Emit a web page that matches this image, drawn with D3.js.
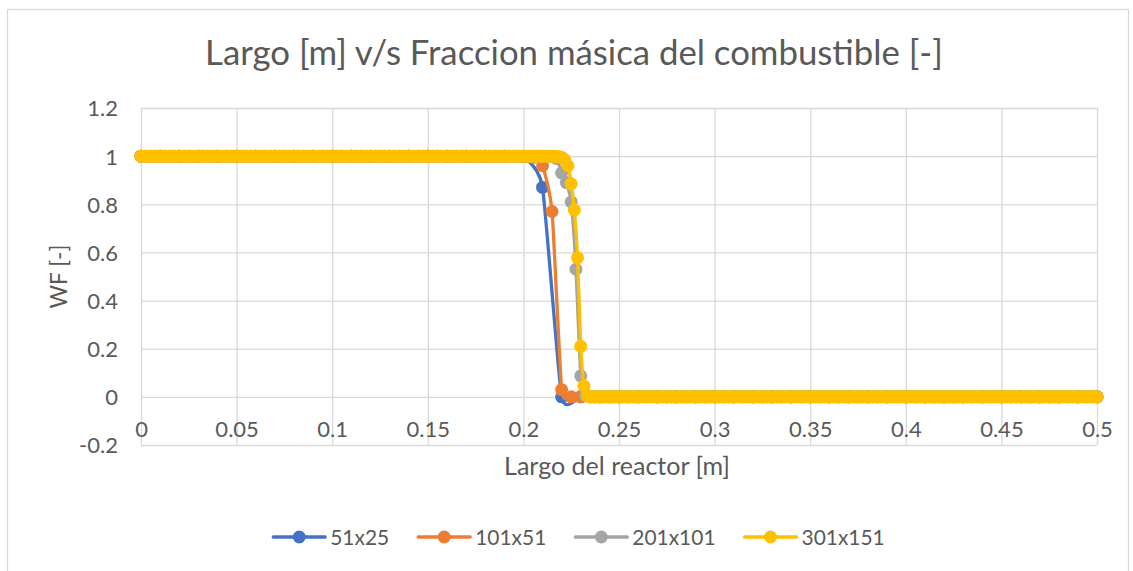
<!DOCTYPE html>
<html><head><meta charset="utf-8">
<script src="https://cdn.jsdelivr.net/npm/d3@7"></script>
<style>
body{margin:0;background:#fff}
svg{display:block}
text{font-family:Lato,"Open Sans",sans-serif;fill:#595959}
</style></head>
<body><svg id="chart" width="1133" height="571"></svg>
<script>
const chartTitle = "Largo [m] v/s Fraccion másica del combustible [-]";
const xAxisTitle = "Largo del reactor [m]";
const yAxisTitle = "WF [-]";
const xTickValues = [0,0.05,0.1,0.15,0.2,0.25,0.3,0.35,0.4,0.45,0.5];
const xTickLabels = ["0","0.05","0.1","0.15","0.2","0.25","0.3","0.35","0.4","0.45","0.5"];
const yTickValues = [-0.2,0,0.2,0.4,0.6,0.8,1,1.2];
const yTickLabels = ["-0.2","0","0.2","0.4","0.6","0.8","1","1.2"];
const seriesNames = ["51x25","101x51","201x101","301x151"];

const x51 = [0,0.01,0.02,0.03,0.04,0.05,0.06,0.07,0.08,0.09,
0.1,0.11,0.12,0.13,0.14,0.15,0.16,0.17,0.18,0.19,
0.2,0.21,0.22,0.23,0.24,0.25,0.26,0.27,0.28,0.29,
0.3,0.31,0.32,0.33,0.34,0.35,0.36,0.37,0.38,0.39,
0.4,0.41,0.42,0.43,0.44,0.45,0.46,0.47,0.48,0.49,
0.5];
const wf51 = [1,1,1,1,1,1,1,1,1,1,
1,1,1,1,1,1,1,1,1,1,
0.998,0.87,0,0,0,0,0,0,0,0,
0,0,0,0,0,0,0,0,0,0,
0,0,0,0,0,0,0,0,0,0,
0];

const x101 = [0,0.005,0.01,0.015,0.02,0.025,0.03,0.035,0.04,0.045,
0.05,0.055,0.06,0.065,0.07,0.075,0.08,0.085,0.09,0.095,
0.1,0.105,0.11,0.115,0.12,0.125,0.13,0.135,0.14,0.145,
0.15,0.155,0.16,0.165,0.17,0.175,0.18,0.185,0.19,0.195,
0.2,0.205,0.21,0.215,0.22,0.225,0.23,0.235,0.24,0.245,
0.25,0.255,0.26,0.265,0.27,0.275,0.28,0.285,0.29,0.295,
0.3,0.305,0.31,0.315,0.32,0.325,0.33,0.335,0.34,0.345,
0.35,0.355,0.36,0.365,0.37,0.375,0.38,0.385,0.39,0.395,
0.4,0.405,0.41,0.415,0.42,0.425,0.43,0.435,0.44,0.445,
0.45,0.455,0.46,0.465,0.47,0.475,0.48,0.485,0.49,0.495,
0.5];
const wf101 = [1,1,1,1,1,1,1,1,1,1,
1,1,1,1,1,1,1,1,1,1,
1,1,1,1,1,1,1,1,1,1,
1,1,1,1,1,1,1,1,1,1,
1,0.995,0.96,0.77,0.03,0,0,0,0,0,
0,0,0,0,0,0,0,0,0,0,
0,0,0,0,0,0,0,0,0,0,
0,0,0,0,0,0,0,0,0,0,
0,0,0,0,0,0,0,0,0,0,
0,0,0,0,0,0,0,0,0,0,
0];

const x201 = [0,0.0025,0.005,0.0075,0.01,0.0125,0.015,0.0175,0.02,0.0225,
0.025,0.0275,0.03,0.0325,0.035,0.0375,0.04,0.0425,0.045,0.0475,
0.05,0.0525,0.055,0.0575,0.06,0.0625,0.065,0.0675,0.07,0.0725,
0.075,0.0775,0.08,0.0825,0.085,0.0875,0.09,0.0925,0.095,0.0975,
0.1,0.1025,0.105,0.1075,0.11,0.1125,0.115,0.1175,0.12,0.1225,
0.125,0.1275,0.13,0.1325,0.135,0.1375,0.14,0.1425,0.145,0.1475,
0.15,0.1525,0.155,0.1575,0.16,0.1625,0.165,0.1675,0.17,0.1725,
0.175,0.1775,0.18,0.1825,0.185,0.1875,0.19,0.1925,0.195,0.1975,
0.2,0.2025,0.205,0.2075,0.21,0.2125,0.215,0.2175,0.22,0.2225,
0.225,0.2275,0.23,0.2325,0.235,0.2375,0.24,0.2425,0.245,0.2475,
0.25,0.2525,0.255,0.2575,0.26,0.2625,0.265,0.2675,0.27,0.2725,
0.275,0.2775,0.28,0.2825,0.285,0.2875,0.29,0.2925,0.295,0.2975,
0.3,0.3025,0.305,0.3075,0.31,0.3125,0.315,0.3175,0.32,0.3225,
0.325,0.3275,0.33,0.3325,0.335,0.3375,0.34,0.3425,0.345,0.3475,
0.35,0.3525,0.355,0.3575,0.36,0.3625,0.365,0.3675,0.37,0.3725,
0.375,0.3775,0.38,0.3825,0.385,0.3875,0.39,0.3925,0.395,0.3975,
0.4,0.4025,0.405,0.4075,0.41,0.4125,0.415,0.4175,0.42,0.4225,
0.425,0.4275,0.43,0.4325,0.435,0.4375,0.44,0.4425,0.445,0.4475,
0.45,0.4525,0.455,0.4575,0.46,0.4625,0.465,0.4675,0.47,0.4725,
0.475,0.4775,0.48,0.4825,0.485,0.4875,0.49,0.4925,0.495,0.4975,
0.5];
const wf201 = [1,1,1,1,1,1,1,1,1,1,
1,1,1,1,1,1,1,1,1,1,
1,1,1,1,1,1,1,1,1,1,
1,1,1,1,1,1,1,1,1,1,
1,1,1,1,1,1,1,1,1,1,
1,1,1,1,1,1,1,1,1,1,
1,1,1,1,1,1,1,1,1,1,
1,1,1,1,1,1,1,1,1,1,
1,1,1,1,1,1,0.998,0.99,0.93,0.89,
0.81,0.53,0.087,0.005,0,0,0,0,0,0,
0,0,0,0,0,0,0,0,0,0,
0,0,0,0,0,0,0,0,0,0,
0,0,0,0,0,0,0,0,0,0,
0,0,0,0,0,0,0,0,0,0,
0,0,0,0,0,0,0,0,0,0,
0,0,0,0,0,0,0,0,0,0,
0,0,0,0,0,0,0,0,0,0,
0,0,0,0,0,0,0,0,0,0,
0,0,0,0,0,0,0,0,0,0,
0,0,0,0,0,0,0,0,0,0,
0];

const x301 = [0,0.00167,0.00333,0.005,0.00667,0.00833,
0.01,0.01167,0.01333,0.015,0.01667,0.01833,
0.02,0.02167,0.02333,0.025,0.02667,0.02833,
0.03,0.03167,0.03333,0.035,0.03667,0.03833,
0.04,0.04167,0.04333,0.045,0.04667,0.04833,
0.05,0.05167,0.05333,0.055,0.05667,0.05833,
0.06,0.06167,0.06333,0.065,0.06667,0.06833,
0.07,0.07167,0.07333,0.075,0.07667,0.07833,
0.08,0.08167,0.08333,0.085,0.08667,0.08833,
0.09,0.09167,0.09333,0.095,0.09667,0.09833,
0.1,0.10167,0.10333,0.105,0.10667,0.10833,
0.11,0.11167,0.11333,0.115,0.11667,0.11833,
0.12,0.12167,0.12333,0.125,0.12667,0.12833,
0.13,0.13167,0.13333,0.135,0.13667,0.13833,
0.14,0.14167,0.14333,0.145,0.14667,0.14833,
0.15,0.15167,0.15333,0.155,0.15667,0.15833,
0.16,0.16167,0.16333,0.165,0.16667,0.16833,
0.17,0.17167,0.17333,0.175,0.17667,0.17833,
0.18,0.18167,0.18333,0.185,0.18667,0.18833,
0.19,0.19167,0.19333,0.195,0.19667,0.19833,
0.2,0.20167,0.20333,0.205,0.20667,0.20833,
0.21,0.21167,0.21333,0.215,0.21667,0.21833,
0.22,0.22167,0.22333,0.225,0.22667,0.22833,
0.23,0.23167,0.23333,0.235,0.23667,0.23833,
0.24,0.24167,0.24333,0.245,0.24667,0.24833,
0.25,0.25167,0.25333,0.255,0.25667,0.25833,
0.26,0.26167,0.26333,0.265,0.26667,0.26833,
0.27,0.27167,0.27333,0.275,0.27667,0.27833,
0.28,0.28167,0.28333,0.285,0.28667,0.28833,
0.29,0.29167,0.29333,0.295,0.29667,0.29833,
0.3,0.30167,0.30333,0.305,0.30667,0.30833,
0.31,0.31167,0.31333,0.315,0.31667,0.31833,
0.32,0.32167,0.32333,0.325,0.32667,0.32833,
0.33,0.33167,0.33333,0.335,0.33667,0.33833,
0.34,0.34167,0.34333,0.345,0.34667,0.34833,
0.35,0.35167,0.35333,0.355,0.35667,0.35833,
0.36,0.36167,0.36333,0.365,0.36667,0.36833,
0.37,0.37167,0.37333,0.375,0.37667,0.37833,
0.38,0.38167,0.38333,0.385,0.38667,0.38833,
0.39,0.39167,0.39333,0.395,0.39667,0.39833,
0.4,0.40167,0.40333,0.405,0.40667,0.40833,
0.41,0.41167,0.41333,0.415,0.41667,0.41833,
0.42,0.42167,0.42333,0.425,0.42667,0.42833,
0.43,0.43167,0.43333,0.435,0.43667,0.43833,
0.44,0.44167,0.44333,0.445,0.44667,0.44833,
0.45,0.45167,0.45333,0.455,0.45667,0.45833,
0.46,0.46167,0.46333,0.465,0.46667,0.46833,
0.47,0.47167,0.47333,0.475,0.47667,0.47833,
0.48,0.48167,0.48333,0.485,0.48667,0.48833,
0.49,0.49167,0.49333,0.495,0.49667,0.49833,
0.5];
const wf301 = [1,1,1,1,1,1, 1,1,1,1,1,1, 1,1,1,1,1,1,
1,1,1,1,1,1, 1,1,1,1,1,1, 1,1,1,1,1,1,
1,1,1,1,1,1, 1,1,1,1,1,1, 1,1,1,1,1,1,
1,1,1,1,1,1, 1,1,1,1,1,1, 1,1,1,1,1,1,
1,1,1,1,1,1, 1,1,1,1,1,1, 1,1,1,1,1,1,
1,1,1,1,1,1, 1,1,1,1,1,1, 1,1,1,1,1,1,
1,1,1,1,1,1, 1,1,1,1,1,1, 1,1,1,1,1,1,
1,1,1,1,0.999,0.998,
0.995,0.985,0.96,0.885,0.776,0.578,
0.21,0.045,0.005,0,0,0,
0,0,0,0,0,0, 0,0,0,0,0,0, 0,0,0,0,0,0,
0,0,0,0,0,0, 0,0,0,0,0,0, 0,0,0,0,0,0,
0,0,0,0,0,0, 0,0,0,0,0,0, 0,0,0,0,0,0,
0,0,0,0,0,0, 0,0,0,0,0,0, 0,0,0,0,0,0,
0,0,0,0,0,0, 0,0,0,0,0,0, 0,0,0,0,0,0,
0,0,0,0,0,0, 0,0,0,0,0,0, 0,0,0,0,0,0,
0,0,0,0,0,0, 0,0,0,0,0,0, 0,0,0,0,0,0,
0,0,0,0,0,0, 0,0,0,0,0,0, 0,0,0,0,0,0,
0,0,0,0,0,0, 0,0,0,0,0,0,
0];

const seriesX = [x51, x101, x201, x301];
const seriesY = [wf51, wf101, wf201, wf301];
const seriesColors = ["#4472C4","#ED7D31","#A5A5A5","#FFC000"];

const svg = d3.select("#chart");
const m = {left:141, right:1097, top:108, bottom:445};
const x = d3.scaleLinear().domain([0,0.5]).range([m.left, m.right]);
const y = d3.scaleLinear().domain([-0.2,1.2]).range([m.bottom, m.top]);
const gridColor = "#D9D9D9";

svg.append("rect").attr("x",7.5).attr("y",9.5).attr("width",1121).attr("height",580)
  .attr("fill","#fff").attr("stroke",gridColor).attr("stroke-width",1.3);

function fit(t, w){
  t.style("font-size","20px");
  const L = t.node().getComputedTextLength();
  t.style("font-size", (20*w/L)+"px");
}

// title
const title = svg.append("text").attr("x",574).attr("y",65).attr("text-anchor","middle").text(chartTitle);
fit(title, 738);

// gridlines + tick labels
const yAxis = d3.axisLeft(y).tickValues(yTickValues).tickSize(-(m.right-m.left)).tickFormat((d,i)=>yTickLabels[i]);
const gy = svg.append("g").attr("transform",`translate(${m.left},0)`).call(yAxis);
gy.select(".domain").remove();
gy.selectAll(".tick line").attr("stroke",gridColor).attr("stroke-width",1.3);
gy.selectAll(".tick text").attr("x",-23).attr("dy","0.36em").style("font-size","22px").attr("fill","#595959");

const xAxis = d3.axisBottom(x).tickValues(xTickValues).tickSize(-(m.bottom-m.top)).tickFormat((d,i)=>xTickLabels[i]);
const gx = svg.append("g").attr("transform",`translate(0,${m.bottom})`).call(xAxis);
gx.select(".domain").remove();
gx.selectAll(".tick line").attr("stroke",gridColor).attr("stroke-width",1.3);
// labels sit next to the horizontal axis at y = 0
gx.selectAll(".tick text").attr("y", y(0)-m.bottom+32).attr("dy","0.36em").style("font-size","22px").attr("fill","#595959");

// axis titles
const xt = svg.append("text").attr("x",617).attr("y",475).attr("text-anchor","middle").text(xAxisTitle);
fit(xt, 226);
const yt = svg.append("text").attr("transform",`translate(67,${(m.top+m.bottom)/2}) rotate(-90)`).attr("text-anchor","middle").text(yAxisTitle);
fit(yt, 64);

// series
const line = d3.line().x(d=>x(d[0])).y(d=>y(d[1])).curve(d3.curveCardinal.tension(0.5));
seriesNames.forEach((name,k)=>{
  const pts = d3.zip(seriesX[k], seriesY[k]);
  const g = svg.append("g");
  g.append("path").attr("d",line(pts)).attr("fill","none").attr("stroke",seriesColors[k])
    .attr("stroke-width",3.3).attr("stroke-linejoin","round").attr("stroke-linecap","round");
  g.selectAll("circle").data(pts).join("circle")
    .attr("cx",d=>x(d[0])).attr("cy",d=>y(d[1])).attr("r",6.5).attr("fill",seriesColors[k]);
});

// legend
const lg = svg.append("g");
let probe = lg.append("text").text(seriesNames[0]);
fit(probe, 59);
const legendFont = probe.style("font-size");
probe.remove();
const lineLen = 52, gapText = 5, gapItem = 29;
const widths = seriesNames.map(n=>{
  const t = lg.append("text").style("font-size",legendFont).text(n);
  const w = t.node().getComputedTextLength(); t.remove(); return w;
});
const total = d3.sum(widths) + seriesNames.length*(lineLen+gapText) + (seriesNames.length-1)*gapItem;
let cx = 579 - total/2;
const ly = 537;
seriesNames.forEach((n,k)=>{
  lg.append("line").attr("x1",cx).attr("x2",cx+lineLen).attr("y1",ly).attr("y2",ly)
    .attr("stroke",seriesColors[k]).attr("stroke-width",3.3).attr("stroke-linecap","round");
  lg.append("circle").attr("cx",cx+lineLen/2).attr("cy",ly).attr("r",6.5).attr("fill",seriesColors[k]);
  lg.append("text").attr("x",cx+lineLen+gapText).attr("y",ly).attr("dy","0.36em").style("font-size",legendFont).text(n);
  cx += lineLen + gapText + widths[k] + gapItem;
});
</script></body></html>
